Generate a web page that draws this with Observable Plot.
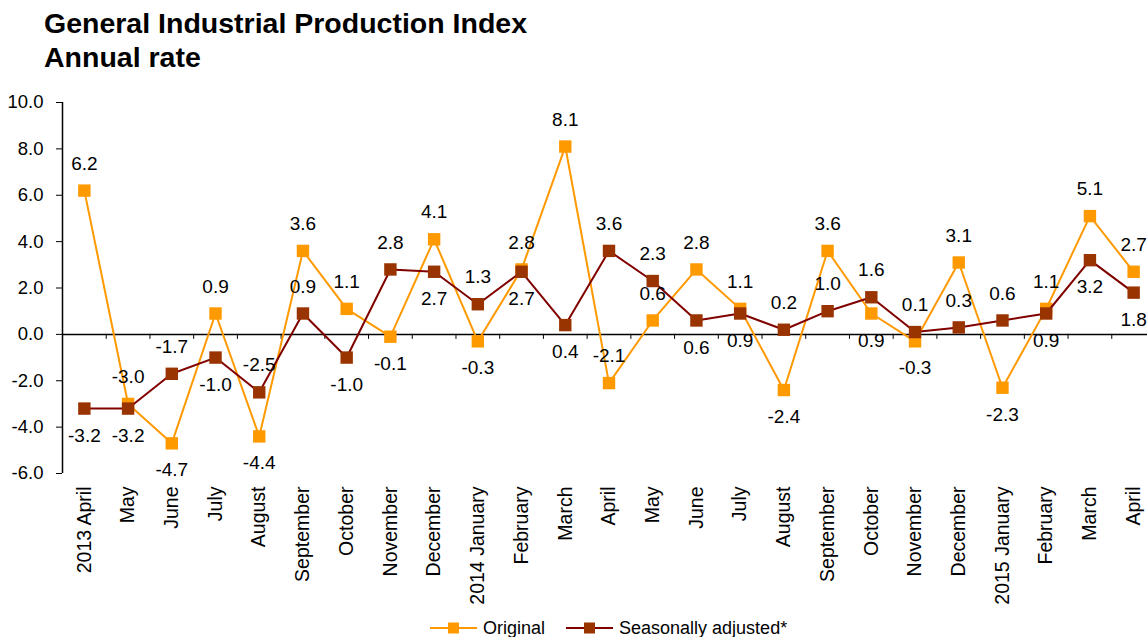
<!DOCTYPE html>
<html><head><meta charset="utf-8">
<script src="https://cdn.jsdelivr.net/npm/d3@7"></script>
<script src="https://cdn.jsdelivr.net/npm/@observablehq/plot@0.6"></script>
<style>
body{margin:0;background:#fff;width:1147px;height:637px;overflow:hidden;position:relative;font-family:"Liberation Sans",Arial,sans-serif;color:#000}
#title{position:absolute;left:44px;top:6px;font-weight:bold;font-size:28.5px;line-height:34px;white-space:nowrap}
#chart{position:absolute;left:0;top:85px}
#legend{position:absolute;left:430px;top:617px;height:22px;display:flex;align-items:center;font-size:18px;white-space:nowrap}
#legend svg{display:block}
</style></head><body>
<div id="title">General Industrial Production Index<br>Annual rate</div>
<div id="chart"></div>
<div id="legend"></div>
<script>
const months = ["2013 April","May","June","July","August","September","October","November","December",
  "2014 January","February","March","April","May","June","July","August","September","October","November","December",
  "2015 January","February","March","April"];
const original = [6.2,-3.0,-4.7,0.9,-4.4,3.6,1.1,-0.1,4.1,-0.3,2.8,8.1,-2.1,0.6,2.8,1.1,-2.4,3.6,0.9,-0.3,3.1,-2.3,1.1,5.1,2.7];
const seasonal = [-3.2,-3.2,-1.7,-1.0,-2.5,0.9,-1.0,2.8,2.7,1.3,2.7,0.4,3.6,2.3,0.6,0.9,0.2,1.0,1.6,0.1,0.3,0.6,0.9,3.2,1.8];
// which side of the marker each data label sits on ("a" above, "b" below)
const originalLabelSide = ["a","a","b","a","b","a","a","b","a","b","a","a","a","a","a","a","b","a","b","b","a","b","a","a","a"];
const seasonalLabelSide = ["b","b","a","b","a","a","b","a","b","a","b","b","a","a","b","b","a","a","a","a","a","a","b","b","b"];
const yTicks = [-6,-4,-2,0,2,4,6,8,10];
const seriesNames = ["Original","Seasonally adjusted*"];
const colors = {origLine:"#FF9900", origMark:"#FF9900", saLine:"#800000", saMark:"#993300"};

const rows = months.map((m,i)=>({i, month:m, original:original[i], seasonal:seasonal[i],
  oSide:originalLabelSide[i], sSide:seasonalLabelSide[i]}));
const seps = d3.range(months.length).map(i=>i+0.5);
const fmt = d=>d.toFixed(1);
const off = 27;
const lblSize = 19;

const chart = Plot.plot({
  width:1147, height:520, marginTop:17, marginBottom:132, marginLeft:62, marginRight:0,
  x:{domain:[-0.5, months.length-0.5], range:[62,1155]},
  y:{domain:[-6,10]},
  style:{fontFamily:'"Liberation Sans",Arial,sans-serif', fontSize:"18px", color:"#000", background:"#fff", overflow:"visible"},
  marks:[
    Plot.ruleY([0],{stroke:"#000",strokeWidth:1.5}),
    Plot.ruleX(seps,{x:d=>d, y1:0, y2:0, insetBottom:-5, stroke:"#000", strokeWidth:1}),
    Plot.ruleX([-0.5],{y1:-6, y2:10, stroke:"#000", strokeWidth:1.5}),
    Plot.axisY({ticks:yTicks, tickFormat:fmt, tickSize:6, tickPadding:13, label:null, fontSize:18.5}),
    Plot.axisX({ticks:d3.range(months.length), tickFormat:i=>months[i], tickSize:0, tickPadding:13, tickRotate:-90, label:null, fontSize:19.5}),
    Plot.line(rows,{x:"i", y:"original", stroke:colors.origLine, strokeWidth:2}),
    Plot.dot(rows,{x:"i", y:"original", symbol:"square", r:7, fill:colors.origMark}),
    Plot.line(rows,{x:"i", y:"seasonal", stroke:colors.saLine, strokeWidth:2}),
    Plot.dot(rows,{x:"i", y:"seasonal", symbol:"square", r:7, fill:colors.saMark}),
    Plot.text(rows.filter(d=>d.oSide==="a"),{x:"i", y:"original", text:d=>fmt(d.original), dy:-off, fontSize:lblSize, fill:"#000"}),
    Plot.text(rows.filter(d=>d.oSide==="b"),{x:"i", y:"original", text:d=>fmt(d.original), dy:off, fontSize:lblSize, fill:"#000"}),
    Plot.text(rows.filter(d=>d.sSide==="a"),{x:"i", y:"seasonal", text:d=>fmt(d.seasonal), dy:-off, fontSize:lblSize, fill:"#000"}),
    Plot.text(rows.filter(d=>d.sSide==="b"),{x:"i", y:"seasonal", text:d=>fmt(d.seasonal), dy:off, fontSize:lblSize, fill:"#000"})
  ]
});
document.getElementById("chart").appendChild(chart);

// legend
const legend = document.getElementById("legend");
const sw = [[colors.origLine, colors.origMark],[colors.saLine, colors.saMark]];
seriesNames.forEach((name,k)=>{
  const s = d3.create("svg").attr("width",48).attr("height",22);
  s.append("line").attr("x1",0).attr("x2",47).attr("y1",11).attr("y2",11).attr("stroke",sw[k][0]).attr("stroke-width",2);
  s.append("rect").attr("x",18).attr("y",5.5).attr("width",11).attr("height",11).attr("fill",sw[k][1]);
  legend.appendChild(s.node());
  const t = document.createElement("span");
  t.textContent = name;
  t.style.marginLeft = "5px";
  t.style.marginRight = k===0 ? "21px" : "0";
  legend.appendChild(t);
});
</script>
</body></html>
